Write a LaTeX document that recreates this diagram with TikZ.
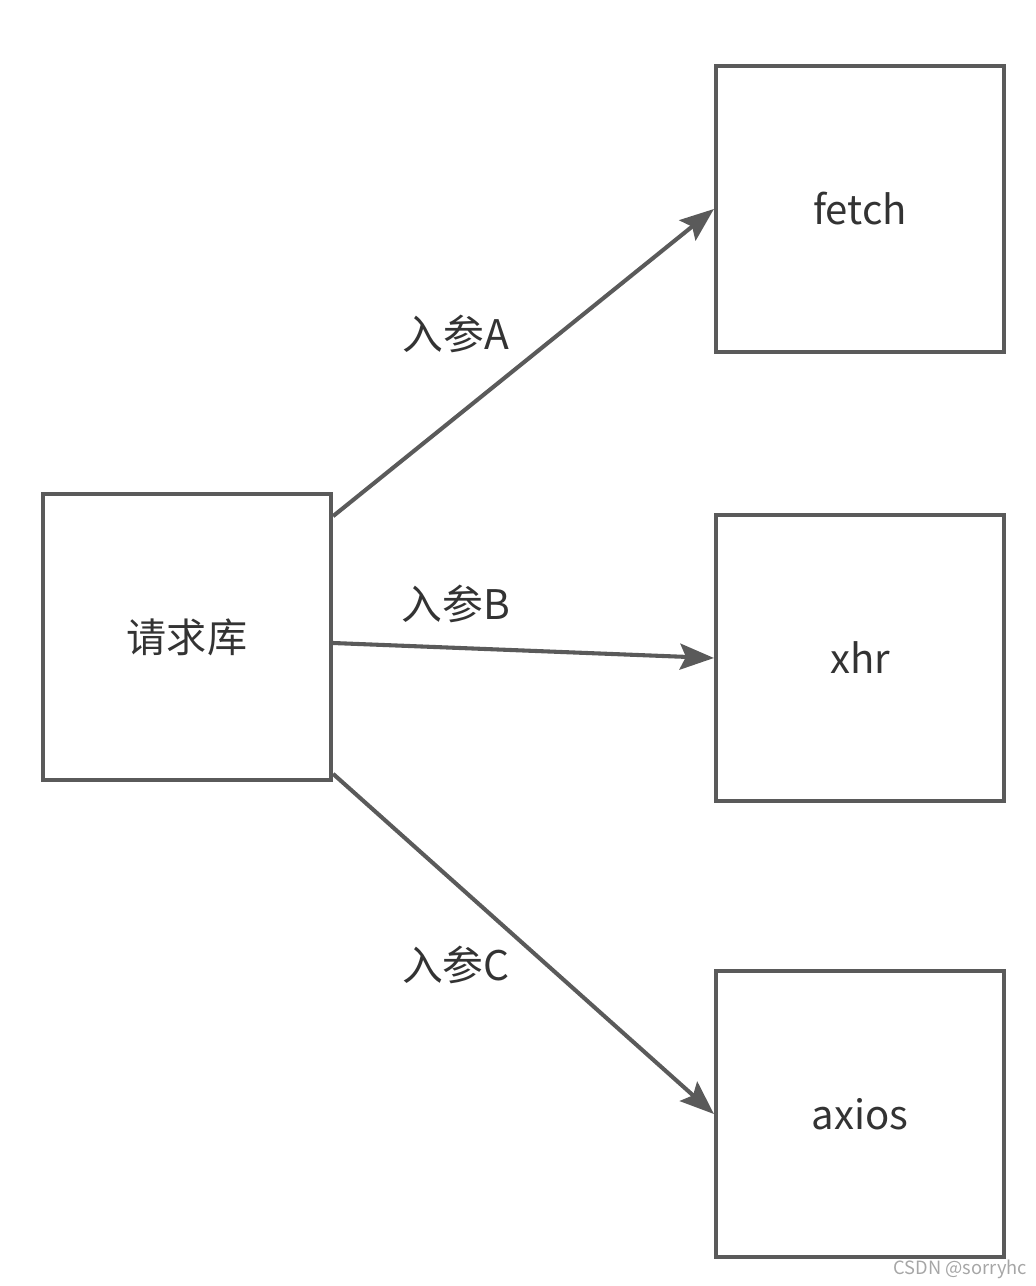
\documentclass[tikz,border=0pt]{standalone}
\usepackage{fontspec}
\setmainfont{Noto Sans CJK SC}
\usepackage{tikz}
\usetikzlibrary{arrows.meta,positioning,calc}
\definecolor{linegray}{HTML}{5A5A5A}
\definecolor{textgray}{HTML}{333333}
\tikzset{
  reqbox/.style={draw=linegray, line width=2.9pt, minimum width=7.2cm, minimum height=7.15cm,
                 inner sep=0pt, font=\fontsize{28.5}{32}\selectfont, text=textgray},
  flowarr/.style={-{Stealth[length=8.5mm,width=6.5mm,inset=1.5mm]}, draw=linegray, line width=2.9pt},
  flowlab/.style={font=\fontsize{29}{32}\selectfont, text=textgray},
  wmark/.style={font=\fontsize{13}{15}\selectfont, text=black!35},
}

\begin{document}
\begin{tikzpicture}[x=0.025cm,y=-0.025cm]
\useasboundingbox (0,0) rectangle (1036,1286);
\node[reqbox] (lib) at (187,637) {请求库};
\node[reqbox] (fetch) at (860,209) {fetch};
\node[reqbox] (xhr) at (860,658) {xhr};
\node[reqbox] (axios) at (860,1114) {axios};
\draw[flowarr] ([yshift=3.02cm]lib.east) -- (fetch.west);
\draw[flowarr] ([yshift=-0.15cm]lib.east) -- (xhr.west);
\draw[flowarr] ([yshift=-3.42cm]lib.east) -- (axios.west);
\node[flowlab] (labA) at (456,334) {入参A};
\node[flowlab] (labB) at (456,604) {入参B};
\node[flowlab] (labC) at (456,965) {入参C};
\node[wmark, anchor=east] (wm) at (1032,1269) {CSDN @sorryhc};
\end{tikzpicture}
\end{document}
